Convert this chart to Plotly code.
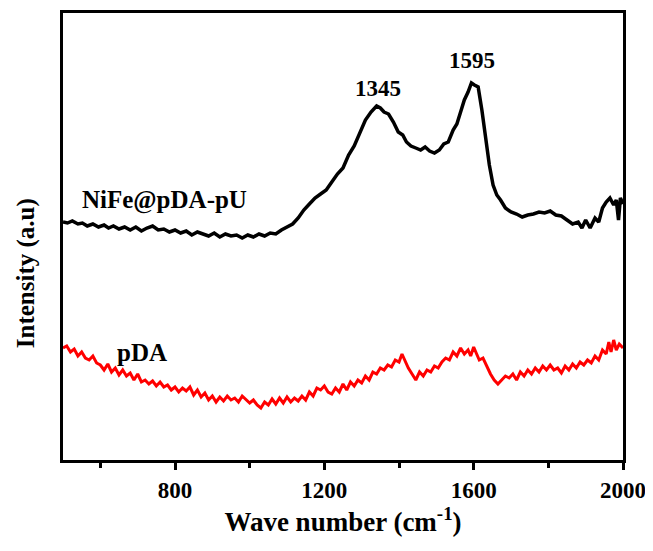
import plotly.graph_objects as go

# NiFe@pDA-pU spectrum (black)
black_w = [500, 512, 525, 540, 552, 565, 580, 595, 610, 622, 635, 650, 665, 680, 695, 710, 725, 740, 755, 770,
           785, 800, 815, 830, 845, 860, 875, 890, 905, 920, 935, 950, 965, 980, 995, 1010, 1025, 1040, 1055, 1070,
           1085, 1100, 1115, 1130, 1145, 1160, 1175, 1190, 1205, 1220, 1235, 1250, 1265, 1280, 1295, 1310, 1325,
           1340, 1350, 1360, 1372, 1385, 1398, 1410, 1420, 1432, 1445, 1458, 1470, 1482, 1495, 1508, 1520, 1532,
           1545, 1555, 1565, 1575, 1585, 1594, 1602, 1612, 1622, 1632, 1642, 1652, 1662, 1672, 1685, 1700, 1715,
           1730, 1745, 1760, 1775, 1790, 1805, 1820, 1835, 1850, 1865, 1880, 1890, 1900, 1912, 1925, 1935, 1945,
           1955, 1965, 1975, 1982, 1988, 1993, 2000]
black_i = [238, 237, 239, 236, 237, 234, 236, 233, 235, 232, 234, 231, 233, 230, 233, 229, 232, 234, 230, 231,
           228, 230, 227, 229, 225, 228, 226, 224, 227, 223, 226, 224, 225, 222, 225, 223, 226, 224, 227, 226,
           230, 233, 236, 242, 250, 256, 262, 266, 270, 278, 286, 292, 305, 314, 328, 340, 348,
           354, 352, 348, 346, 338, 328, 325, 318, 314, 312, 310, 313, 309, 307, 310, 316, 318,
           330, 336, 348, 360, 368, 377, 375, 373, 350, 320, 295, 275, 265, 260, 252, 248, 246,
           243, 245, 246, 248, 247, 249, 245, 244, 240, 236, 238, 232, 240, 232, 242, 238, 252,
           258, 262, 255, 260, 240, 262, 256]

# pDA spectrum (red)
red_w = [500, 510, 520, 530, 540, 550, 560, 570, 580, 590, 600, 610, 620, 630, 640, 650, 660, 670, 680, 690,
         700, 710, 720, 730, 740, 750, 760, 770, 780, 790, 800, 810, 820, 830, 840, 850, 860, 870, 880, 890,
         900, 910, 920, 930, 940, 950, 960, 970, 980, 990, 1000, 1010, 1020, 1030, 1040, 1050, 1060, 1070, 1080,
         1090, 1100, 1110, 1120, 1130, 1140, 1150, 1160, 1170, 1180, 1190, 1200, 1210, 1220, 1230, 1240, 1250,
         1260, 1270, 1280, 1290, 1300, 1310, 1320, 1330, 1340, 1350, 1360, 1370, 1380, 1390, 1400, 1408, 1415,
         1425, 1435, 1445, 1455, 1465, 1475, 1485, 1495, 1505, 1515, 1525, 1535, 1545, 1555, 1565, 1575, 1585,
         1592, 1600, 1608, 1615, 1625, 1635, 1645, 1655, 1665, 1675, 1685, 1695, 1705, 1715, 1725, 1735, 1745,
         1755, 1765, 1775, 1785, 1795, 1805, 1815, 1825, 1835, 1845, 1855, 1865, 1875, 1885, 1895, 1905, 1915,
         1925, 1935, 1945, 1955, 1962, 1968, 1975, 1982, 1990, 2000]
red_i = [112, 114, 108, 111, 104, 108, 102, 100, 104, 97, 95, 90, 96, 88, 92, 85, 90, 84, 87, 80,
         86, 78, 80, 76, 79, 74, 78, 73, 75, 70, 73, 68, 72, 69, 73, 65, 70, 63, 67, 60,
         64, 58, 63, 59, 64, 60, 62, 58, 64, 60, 57, 60, 55, 52, 58, 55, 61, 56, 62,
         57, 63, 58, 62, 59, 64, 60, 68, 64, 72, 70, 74, 68, 66, 72, 68, 76,
         70, 78, 74, 80, 77, 84, 80, 88, 86, 92, 90, 95, 93, 100, 98, 106, 100,
         92, 86, 80, 88, 84, 90, 88, 94, 92, 98, 102, 100, 108, 104, 112, 106, 110,
         104, 113, 106, 100, 102, 94, 86, 80, 76, 80, 84, 82, 86, 80, 88, 84, 90,
         86, 92, 88, 94, 90, 95, 90, 92, 87, 94, 90, 96, 92, 98, 95, 100, 97,
         104, 100, 110, 106, 118, 108, 120, 110, 116, 112]

x_ticks = [800, 1200, 1600, 2000]
x_minor_ticks = [600, 1000, 1400, 1800]
peak_labels = [("1345", 1345, 372), ("1595", 1595, 400)]
series_labels = [("NiFe@pDA-pU", 773, 260), ("pDA", 712, 108)]

FONT = "Liberation Serif"

fig = go.Figure()
fig.add_trace(go.Scatter(x=black_w, y=black_i, mode="lines",
                         line=dict(color="black", width=3.5), showlegend=False))
fig.add_trace(go.Scatter(x=red_w, y=red_i, mode="lines",
                         line=dict(color="red", width=3), showlegend=False))

for txt, xv, yv in peak_labels:
    fig.add_annotation(x=xv, y=yv, text=txt, showarrow=False,
                       font=dict(family=FONT, size=23, color="black", weight="bold"))
for txt, xv, yv in series_labels:
    fig.add_annotation(x=xv, y=yv, text=txt, showarrow=False,
                       font=dict(family=FONT, size=25, color="black", weight="bold"))

fig.add_annotation(xref="paper", yref="paper", x=-0.066, y=0.418, text="Intensity (a.u)",
                   textangle=-90, showarrow=False, xanchor="center", yanchor="middle",
                   font=dict(family=FONT, size=25, color="black", weight="bold"))

fig.update_layout(
    width=645, height=543,
    margin=dict(l=55, r=30, t=5, b=91, autoexpand=False),
    paper_bgcolor="white", plot_bgcolor="white",
    font=dict(family=FONT, color="black"),
    xaxis=dict(range=[500, 2000], tickvals=x_ticks, ticks="outside", ticklen=7, tickwidth=2.5,
               tickcolor="black", showline=True, linewidth=3, linecolor="black", mirror=True,
               showgrid=False, zeroline=False,
               tickfont=dict(family=FONT, size=23, color="black", weight="bold"),
               minor=dict(tickvals=x_minor_ticks, ticks="outside", ticklen=5,
                          tickwidth=2.5, tickcolor="black", showgrid=False),
               title=dict(text="Wave number (cm<sup>-1</sup>)", standoff=10,
                          font=dict(family=FONT, size=27, color="black", weight="bold"))),
    yaxis=dict(range=[0, 447], showticklabels=False, ticks="", showline=True, linewidth=3,
               linecolor="black", mirror=True, showgrid=False, zeroline=False),
)

fig.write_html("out.html")
